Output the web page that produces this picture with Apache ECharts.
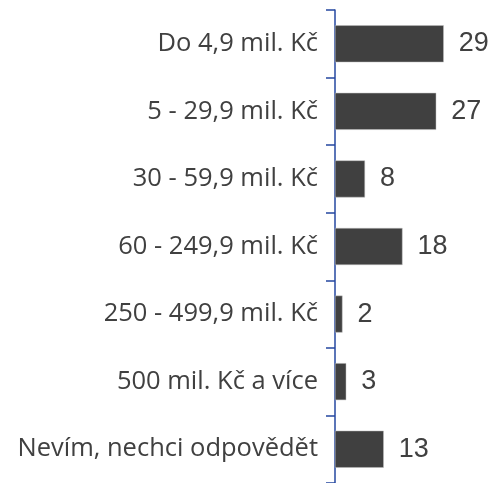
<!DOCTYPE html>
<html>
<head>
<meta charset="utf-8">
<script src="https://cdn.jsdelivr.net/npm/echarts@6/dist/echarts.min.js"></script>
<style>
  html, body { margin: 0; padding: 0; background: #fff; }
  #chart { width: 496px; height: 483px; }
</style>
</head>
<body>
<div id="chart"></div>
<script>
  const categories = [
    'Do 4,9 mil. Kč',
    '5 - 29,9 mil. Kč',
    '30 - 59,9 mil. Kč',
    '60 - 249,9 mil. Kč',
    '250 - 499,9 mil. Kč',
    '500 mil. Kč a více',
    'Nevím, nechci odpovědět'
  ]
  const values = [29, 27, 8, 18, 2, 3, 13]

  const chart = echarts.init(document.getElementById('chart'))
  chart.setOption({
    animation: false,
    grid: { left: 335, top: 10, width: 150, height: 476 },
    xAxis: {
      type: 'value',
      min: 0,
      max: 40,
      show: false
    },
    yAxis: {
      type: 'category',
      inverse: true,
      data: categories,
      axisLine: { show: true, lineStyle: { color: '#2447a0', width: 1.5 } },
      axisTick: { show: true, length: 9, lineStyle: { color: '#2447a0', width: 1.5 } },
      axisLabel: {
        margin: 17,
        fontFamily: 'Open Sans',
        fontSize: 25.5,
        color: '#404040'
      }
    },
    series: [
      {
        type: 'bar',
        data: values,
        barWidth: 37,
        itemStyle: { color: '#404040', borderColor: '#bfbfbf', borderWidth: 0.5 },
        label: {
          show: true,
          position: 'right',
          distance: 15,
          fontFamily: 'Liberation Sans',
          fontSize: 27,
          color: '#404040'
        }
      }
    ]
  })
</script>
</body>
</html>
